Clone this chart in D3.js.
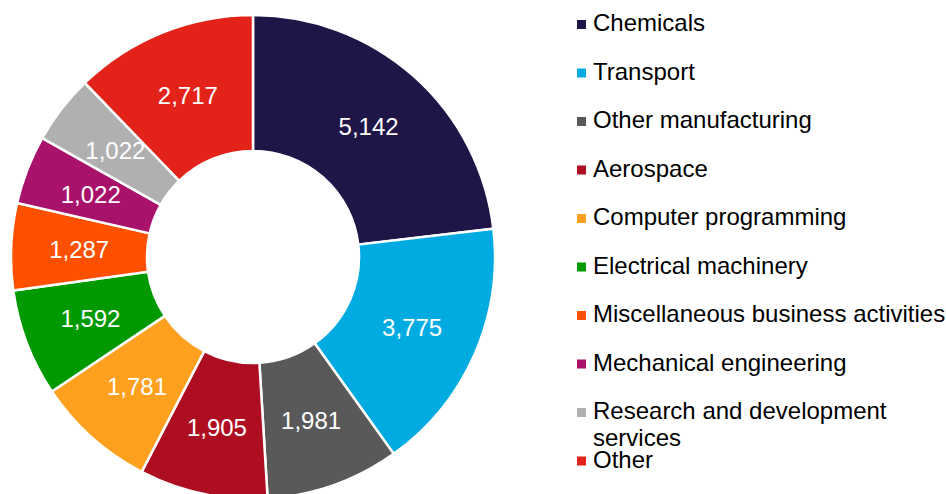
<!DOCTYPE html>
<html>
<head>
<meta charset="utf-8">
<script src="https://cdn.jsdelivr.net/npm/d3@7/dist/d3.min.js"></script>
<style>
  html, body { margin: 0; padding: 0; background: #fff; }
  svg { display: block; font-family: "Liberation Sans", Arial, sans-serif; }
</style>
</head>
<body>
<svg id="chart" width="946" height="494"></svg>
<script>
// Sectors, in drawing order (clockwise from 12 o'clock)
const categories = [
  "Chemicals",
  "Transport",
  "Other manufacturing",
  "Aerospace",
  "Computer programming",
  "Electrical machinery",
  "Miscellaneous business activities",
  "Mechanical engineering",
  "Research and development services",
  "Other"
];
const values = [5142, 3775, 1981, 1905, 1781, 1592, 1287, 1022, 1022, 2717];
const colors = [
  "#1f1547", "#00abe1", "#595959", "#ae0e22", "#ffa01f",
  "#009a00", "#ff5000", "#a8126b", "#b0b0b0", "#e32219"
];
// Legend text, with the long entry split over two lines
const legendLines = [
  ["Chemicals"],
  ["Transport"],
  ["Other manufacturing"],
  ["Aerospace"],
  ["Computer programming"],
  ["Electrical machinery"],
  ["Miscellaneous business activities"],
  ["Mechanical engineering"],
  ["Research and development", "services"],
  ["Other"]
];

const svg = d3.select("#chart");
const cx = 253, cy = 257;
const outerR = 242, innerR = 106;

const data = categories.map((c, i) => ({ name: c, value: values[i], color: colors[i] }));

const pie = d3.pie().value(d => d.value).sort(null);
const arc = d3.arc().innerRadius(innerR).outerRadius(outerR);
const labelArc = d3.arc().innerRadius((innerR + outerR) / 2).outerRadius((innerR + outerR) / 2);
const fmt = d3.format(",");

const g = svg.append("g").attr("transform", `translate(${cx},${cy})`);
const arcs = pie(data);

g.selectAll("path")
  .data(arcs)
  .join("path")
  .attr("d", arc)
  .attr("fill", d => d.data.color)
  .attr("stroke", "#fff")
  .attr("stroke-width", 2.5)
  .attr("stroke-linejoin", "miter");

g.selectAll("text.val")
  .data(arcs)
  .join("text")
  .attr("class", "val")
  .attr("x", d => labelArc.centroid(d)[0])
  .attr("y", d => labelArc.centroid(d)[1])
  .attr("text-anchor", "middle")
  .attr("dy", "0.35em")
  .attr("fill", "#fff")
  .attr("font-size", 24)
  .text(d => fmt(d.data.value));

// Legend
const legend = svg.append("g").attr("transform", "translate(577,0)");
const rowY = d3.scaleLinear().domain([0, 1]).range([31, 79.5]);
const items = legend.selectAll("g.item")
  .data(data)
  .join("g")
  .attr("class", "item")
  .attr("transform", (d, i) => `translate(0,${rowY(i)})`);

items.append("rect")
  .attr("x", 0)
  .attr("y", -11)
  .attr("width", 9)
  .attr("height", 9)
  .attr("fill", d => d.color);

items.append("text")
  .attr("x", 16)
  .attr("y", 0)
  .attr("font-size", 24)
  .attr("fill", "#000")
  .each(function (d, i) {
    d3.select(this).selectAll("tspan")
      .data(legendLines[i])
      .join("tspan")
      .attr("x", 16)
      .attr("dy", (t, j) => j === 0 ? 0 : 27)
      .text(t => t);
  });
</script>
</body>
</html>
